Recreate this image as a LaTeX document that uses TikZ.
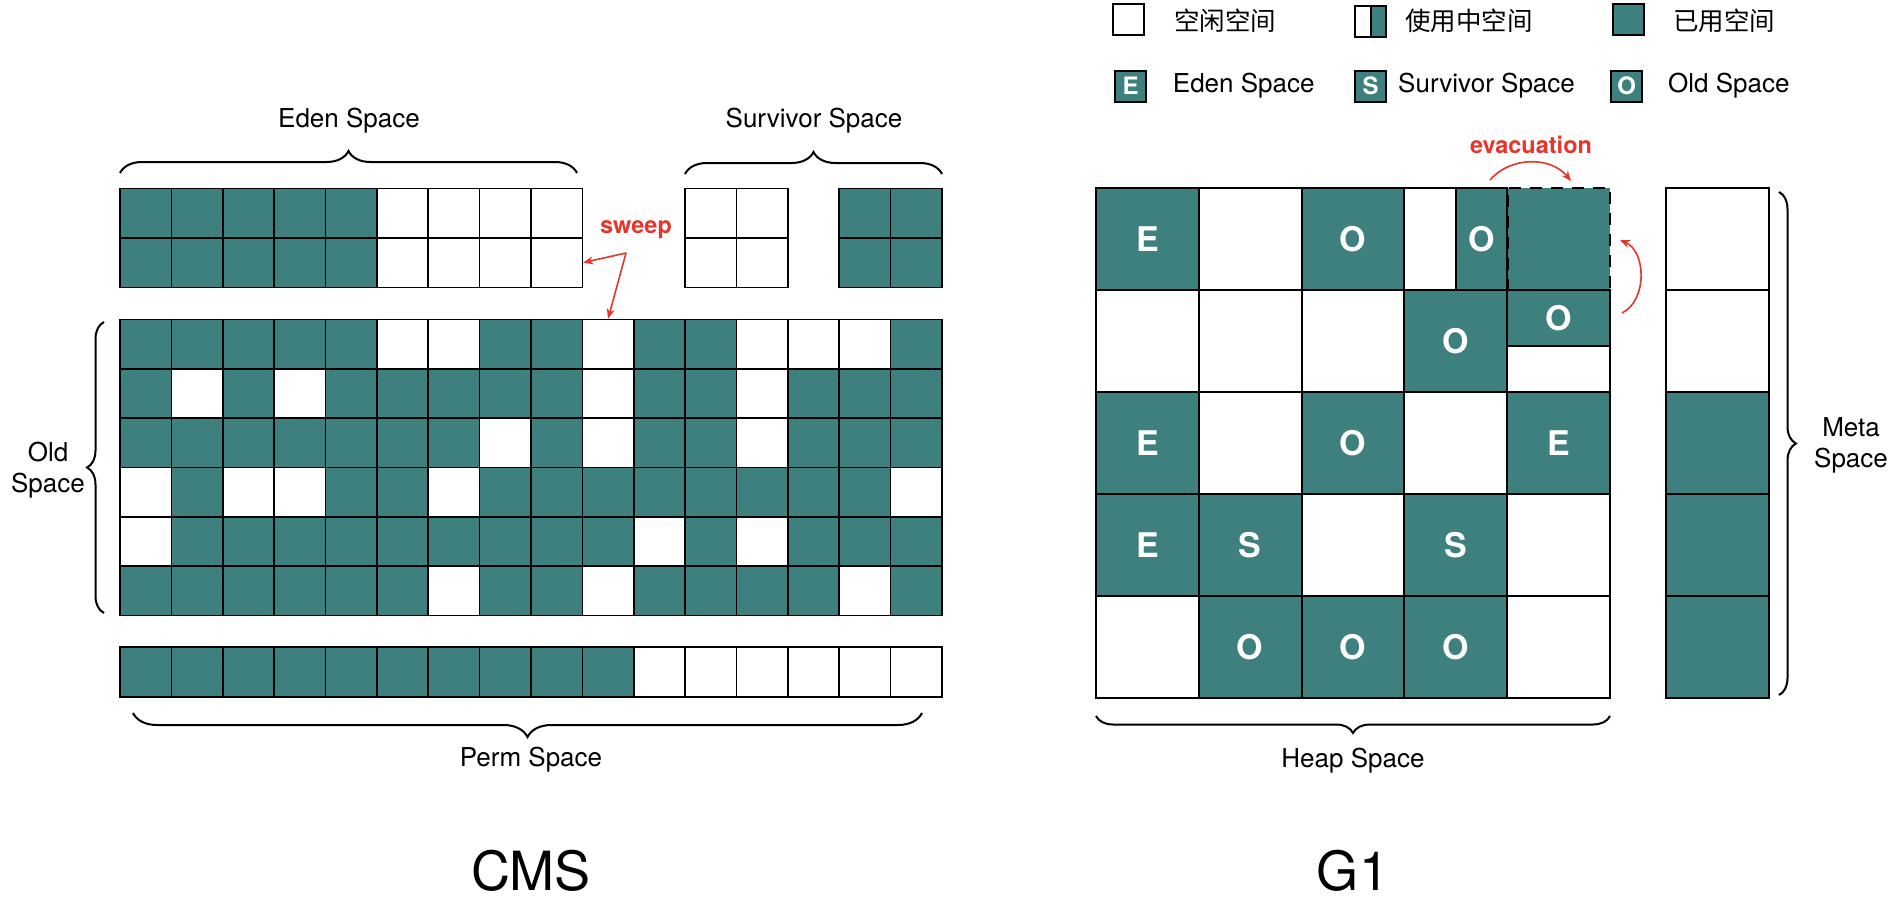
\documentclass[tikz,border=0pt]{standalone}
\usepackage{fontspec}
\setmainfont{TeX Gyre Heros}
\newfontfamily\cjk{Noto Sans CJK SC}
\usetikzlibrary{positioning,decorations.pathreplacing,arrows.meta}
\definecolor{gcteal}{RGB}{61,128,125}
\definecolor{gcred}{RGB}{232,52,42}

\begin{document}
\begin{tikzpicture}[x=1pt,y=-1pt,every node/.style={font=\fontsize{26}{31}\selectfont},
  cell/.style={draw,line width=1.6pt,minimum width=51.4pt,minimum height=49.4pt,inner sep=0pt},
  c0/.style={fill=white}, c1/.style={fill=gcteal},
  gcell/.style={draw,line width=2pt,minimum width=102.8pt,minimum height=102pt,inner sep=0pt,
    text=white,font=\fontsize{34}{34}\selectfont\bfseries},
  u/.style={fill=gcteal}, f/.style={fill=white},
  d/.style={fill=gcteal,line width=2.6pt,dash pattern=on 12pt off 9pt},
  key/.style={draw,line width=2pt,minimum size=31pt,inner sep=0pt,text=white,font=\fontsize{24}{24}\selectfont\bfseries},
  keytxt/.style={anchor=west,inner sep=0pt},
  cjktxt/.style={anchor=west,inner sep=0pt,font=\cjk\fontsize{25.5}{26}\selectfont},
  brc/.style={decorate,decoration={brace,amplitude=#1},line width=2pt}, brc/.default=22pt,
  note/.style={text=gcred,font=\fontsize{23.5}{24}\selectfont\bfseries},
  redarr/.style={gcred,line width=1.6pt,-{Stealth[length=10pt,width=8pt]}}]
  \useasboundingbox (0,0) rectangle (1893,900);

  % CMS: eden and survivor
  \foreach \v [count=\c] in {1,1,1,1,1,0,0,0,0} {
    \node[cell,c\v] (eden-1-\c) at ({120+(\c-0.5)*51.375},213.2) {};
    \node[cell,c\v] (eden-2-\c) at ({120+(\c-0.5)*51.375},262.6) {};
  }
  \foreach \r in {1,2}
    \foreach \c in {1,2} {
      \node[cell,c0] (surv-\r-\c) at ({685+(\c-0.5)*51.5},{188.5+(\r-0.5)*49.4}) {};
      \node[cell,c1] (survb-\r-\c) at ({839+(\c-0.5)*51.5},{188.5+(\r-0.5)*49.4}) {};
    }
  % CMS: old
  \foreach \row [count=\r] in {{1,1,1,1,1,0,0,1,1,0,1,1,0,0,0,1},
      {1,0,1,0,1,1,1,1,1,0,1,1,0,1,1,1},
      {1,1,1,1,1,1,1,0,1,0,1,1,0,1,1,1},
      {0,1,0,0,1,1,0,1,1,1,1,1,1,1,1,0},
      {0,1,1,1,1,1,1,1,1,1,0,1,0,1,1,1},
      {1,1,1,1,1,1,0,1,1,0,1,1,1,1,0,1}}
    \foreach \v [count=\c] in \row
      \node[cell,c\v] (old-\r-\c) at ({120+(\c-0.5)*51.375},{319.5+(\r-0.5)*49.33}) {};
  % CMS: perm
  \foreach \v [count=\c] in {1,1,1,1,1,1,1,1,1,1,0,0,0,0,0,0}
    \node[cell,c\v,minimum height=50pt] (perm-\c) at ({120+(\c-0.5)*51.375},672) {};

  \draw[brc] (120,173) -- (577,173);
  \draw[brc] (685,174) -- (942,174);
  \draw[brc=17pt] (104,613) -- (104,322);
  \draw[brc=24pt] (922,713) -- (133,713);
  \node (eden-lbl) at (349,121) {Eden Space};
  \node (surv-lbl) at (814,121) {Survivor Space};
  \node[align=center] (old-lbl) at (48,470) {Old\\Space};
  \node (perm-lbl) at (531,760) {Perm Space};
  \node[font=\fontsize{54}{54}\selectfont] (cms) at (531,871) {CMS};

  \node[note] (sweep) at (636,230) {sweep};
  \coordinate (sw-k) at (626,253);
  \draw[redarr] (sw-k) -- (eden-2-9.east);
  \draw[redarr] (sw-k) -- (old-1-10.north);

  % G1: heap regions
  \foreach \row [count=\r] in {{u/E,f/{},u/O,f/{},d/{}},
      {f/{},f/{},f/{},u/O,f/{}},
      {u/E,f/{},u/O,f/{},u/E},
      {u/E,u/S,f/{},u/S,f/{}},
      {f/{},u/O,u/O,u/O,f/{}}}
    \foreach \s/\t [count=\c] in \row
      \node[gcell,\s] (g1-\r-\c) at ({1096+(\c-0.5)*102.8},{188+(\r-0.5)*102}) {\t};
  \node[gcell,u,minimum width=51.4pt] (g1-1-4o) at (1481.5,239) {O};
  \node[gcell,u,minimum height=56pt] (g1-2-5o) at (1558.6,318) {O};
  \foreach \s [count=\r] in {f,f,u,u,u}
    \node[gcell,\s] (meta-\r) at (1717.5,{188+(\r-0.5)*102}) {};

  \draw[brc=17pt] (1610,716) -- (1096,716);
  \draw[brc=17pt] (1779,192) -- (1779,695);
  \node (heap-lbl) at (1353,761) {Heap Space};
  \node[align=center] (meta-lbl) at (1851,445) {Meta\\Space};
  \node[font=\fontsize{54}{54}\selectfont] (g1) at (1353,871) {G1};

  \node[note] (evac) at (1531,145) {evacuation};
  \coordinate (ev-a) at (1490,180);
  \coordinate (ev-b) at (1571,181);
  \coordinate (ev-c) at (1622,313);
  \coordinate (ev-d) at (1620,240);
  \draw[redarr] (ev-a) to[bend left=50] (ev-b);
  \draw[redarr] (ev-c) to[bend right=65] (ev-d);

  % legend
  \node[key,fill=white] (k-free) at (1128.7,19.7) {};
  \node[cjktxt] (k-free-t) at (1174,21) {空闲空间};
  \node[key,fill=white,path picture={
      \fill[gcteal] (path picture bounding box.north) rectangle (path picture bounding box.south east);
      \draw[line width=2pt] (path picture bounding box.north) -- (path picture bounding box.south);}]
    (k-use) at (1370.7,21.3) {};
  \node[cjktxt] (k-use-t) at (1405,21) {使用中空间};
  \node[key,fill=gcteal] (k-used) at (1628,19.7) {};
  \node[cjktxt] (k-used-t) at (1673,21) {已用空间};
  \node[key,fill=gcteal] (k-e) at (1130.5,86) {E};
  \node[keytxt] (k-e-t) at (1172.7,86) {Eden Space};
  \node[key,fill=gcteal] (k-s) at (1370.7,86) {S};
  \node[keytxt] (k-s-t) at (1398,86) {Survivor Space};
  \node[key,fill=gcteal] (k-o) at (1626.7,86) {O};
  \node[keytxt] (k-o-t) at (1668,86) {Old Space};
\end{tikzpicture}
\end{document}
